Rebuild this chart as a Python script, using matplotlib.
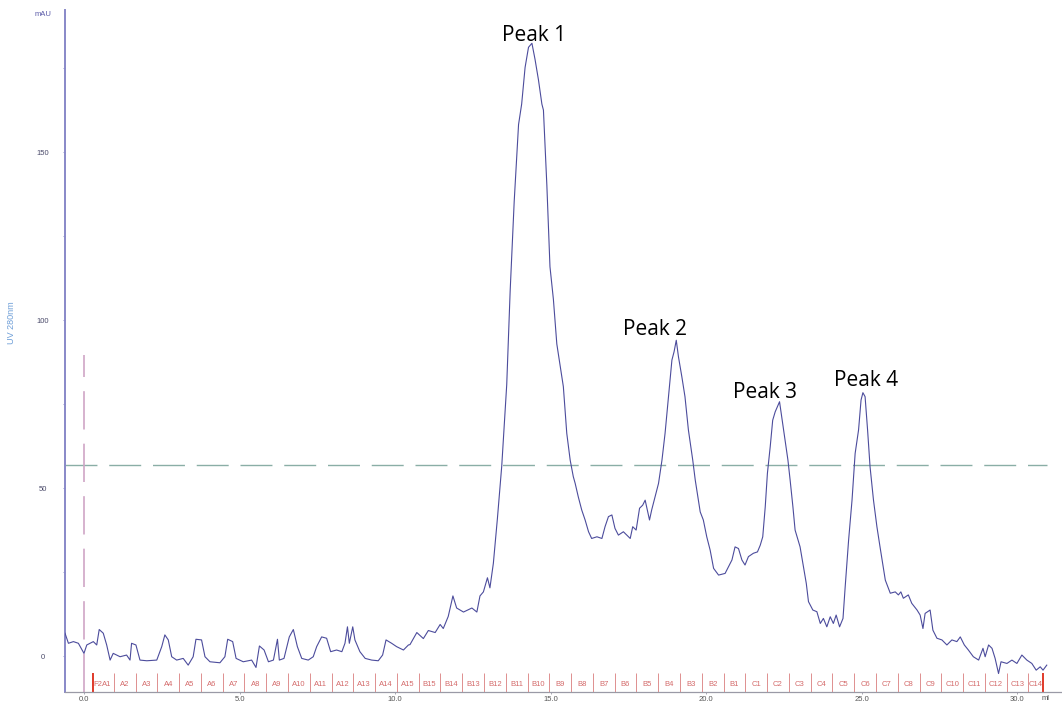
import matplotlib
matplotlib.use('Agg')
import matplotlib.pyplot as plt
from matplotlib.ticker import MultipleLocator

# ---- chromatogram trace (ml, mAU) ----
volume_ml = [
    -0.61, -0.50, -0.34, -0.18, 0.00, 0.09, 0.30, 0.41, 0.49, 0.62, 0.73, 0.84, 0.94,
    1.16, 1.37, 1.48, 1.53, 1.67, 1.80, 2.02, 2.34, 2.50, 2.60, 2.71, 2.82, 2.98,
    3.19, 3.35, 3.51, 3.60, 3.78, 3.89, 4.05, 4.37, 4.53, 4.62, 4.78, 4.89, 5.12,
    5.39, 5.53, 5.64, 5.79, 5.93, 6.09, 6.22, 6.28, 6.43, 6.60, 6.73, 6.86, 7.00,
    7.21, 7.37, 7.48, 7.64, 7.80, 7.93, 8.12, 8.29, 8.39, 8.47, 8.53, 8.64, 8.71,
    8.87, 9.04, 9.25, 9.46, 9.60, 9.71, 9.89, 10.05, 10.27, 10.43,
    10.48, 10.70, 10.91, 11.07, 11.29, 11.45, 11.55, 11.71, 11.86, 11.98, 12.20,
    12.47, 12.63, 12.73, 12.84, 12.97, 13.05, 13.16, 13.29, 13.43, 13.59, 13.70,
    13.83, 13.97, 14.07, 14.18, 14.29, 14.40, 14.50, 14.61, 14.72, 14.77, 14.88,
    14.98, 15.09, 15.20,
    15.41, 15.52, 15.63, 15.73, 15.79, 15.89, 16.00, 16.11, 16.22, 16.32, 16.49,
    16.65, 16.75, 16.86, 16.97, 17.07, 17.18, 17.34, 17.45, 17.56, 17.64, 17.75,
    17.86, 17.96, 18.04, 18.11, 18.18, 18.25, 18.36, 18.47, 18.58, 18.68, 18.79,
    18.90, 18.97, 19.04, 19.11, 19.22, 19.32, 19.43, 19.57, 19.65, 19.70, 19.81,
    19.91, 20.02, 20.13, 20.24, 20.40,
    20.61, 20.72, 20.83, 20.93, 21.04, 21.15, 21.25, 21.36, 21.52, 21.65, 21.74,
    21.82, 21.90, 21.97, 22.06, 22.14, 22.22, 22.29, 22.36, 22.43, 22.54, 22.63,
    22.70, 22.79, 22.86, 22.94, 23.02, 23.13, 23.22, 23.29, 23.43, 23.56, 23.67,
    23.77, 23.88, 23.99, 24.09, 24.18, 24.29, 24.40, 24.47, 24.58, 24.69, 24.79,
    24.90, 24.98, 25.04, 25.11, 25.19, 25.27, 25.38, 25.49, 25.59,
    25.76, 25.92, 26.08, 26.18, 26.26, 26.34, 26.50, 26.61, 26.78, 26.88, 26.97,
    27.04, 27.20, 27.29, 27.42, 27.58, 27.74, 27.90, 28.06, 28.17, 28.30, 28.43,
    28.59, 28.76, 28.90, 28.97, 29.08, 29.19, 29.29, 29.40, 29.48, 29.67, 29.83,
    29.99, 30.15, 30.31, 30.47, 30.61, 30.74, 30.83, 30.95,
]
uv_mau = [
    6.8, 3.8, 4.3, 3.8, 0.8, 3.3, 4.3, 3.3, 7.9, 6.8, 3.3, -1.2, 0.8,
    -0.2, 0.3, -1.2, 3.8, 3.3, -1.2, -1.4, -1.2, 2.8, 6.3, 4.8, -0.2, -1.2,
    -0.7, -2.7, -0.2, 5.0, 4.8, -0.2, -1.7, -2.0, -0.2, 5.0, 4.3, -0.7, -1.7,
    -1.2, -3.4, 3.0, 1.8, -1.7, -1.2, 5.0, -1.2, -0.7, 5.7, 7.9, 2.8, -0.7,
    -1.2, -0.2, 2.8, 5.7, 5.3, 1.3, 1.8, 1.3, 3.8, 8.7, 3.8, 8.7, 4.8,
    1.3, -0.7, -1.2, -1.4, 0.3, 4.8, 3.8, 2.8, 1.8, 3.3,
    3.4, 7.0, 5.2, 7.6, 7.0, 9.4, 8.2, 11.8, 17.9, 14.3, 13.1,
    14.3, 13.1, 17.9, 19.1, 23.3, 20.3, 27.6, 40.9, 56.6, 80.8, 108.6,
    135.3, 158.2, 164.3, 175.2, 181.2, 182.4, 177.6, 171.5, 164.3, 162.5, 140.1,
    115.9, 106.2, 92.9,
    80.2, 66.3, 58.3, 53.4, 51.4, 47.4, 43.5, 40.5, 37.0, 35.0, 35.5,
    35.0, 38.5, 41.5, 42.0, 38.0, 36.0, 37.0, 36.0, 35.0, 38.5, 37.5,
    44.0, 44.9, 46.4, 43.5, 40.5, 43.5, 47.4, 51.4, 58.3, 66.3, 77.2,
    88.1, 90.6, 94.0, 89.1, 83.1, 77.2, 67.3, 58.3, 52.4, 49.4, 42.9,
    40.5, 35.5, 31.5, 26.1, 24.1,
    24.6, 26.6, 28.6, 32.5, 32.0, 28.6, 27.1, 29.6, 30.6, 31.0, 33.0,
    35.5, 44.4, 54.4, 62.3, 70.2, 72.7, 74.2, 75.7, 71.2, 64.3, 58.3,
    52.4, 44.4, 37.5, 35.0, 32.5, 26.6, 21.6, 16.2, 13.7, 13.2, 9.7,
    11.2, 8.7, 11.7, 9.7, 12.2, 8.7, 11.2, 20.6, 34.5, 46.4, 60.3,
    67.3, 76.2, 78.4, 77.2, 67.3, 56.3, 46.4, 38.5, 32.5,
    22.6, 18.7, 19.1, 18.2, 19.1, 17.2, 18.2, 15.7, 13.7, 12.2, 8.2,
    12.7, 13.7, 7.7, 5.3, 4.8, 3.3, 4.8, 4.3, 5.7, 3.3, 1.8,
    -0.2, -1.2, 2.3, -0.2, 3.3, 2.3, -0.7, -5.2, -1.7, -2.2, -1.2,
    -2.2, 0.3, -1.2, -2.2, -4.2, -3.2, -4.2, -2.7,
]

# ---- fraction collector marks ----
fraction_names = ([f'A{i}' for i in range(1, 16)] +
                  [f'B{i}' for i in range(15, 0, -1)] +
                  [f'C{i}' for i in range(1, 15)])
frac_start = 0.26
frac_width = 0.70
run_end = 30.84

# ---- peak annotations ----
peak_names = ['Peak 1', 'Peak 2', 'Peak 3', 'Peak 4']
peak_x = [14.46, 18.36, 21.88, 25.14]
peak_y = [183.1, 95.5, 76.7, 80.4]

watch_level = 56.8      # horizontal dashed level (mAU)
inject_top = 89.6       # top of the injection marker

x_ticks = [0, 5, 10, 15, 20, 25, 30]
y_ticks = [0, 50, 100, 150]

ymin, ymax = -10.7, 192.3
xmin, xmax = -0.61, 31.44

trace_col = '#4c4c9c'
frac_col = '#d46a6a'
axis_font = 'Liberation Sans'

fig = plt.figure(figsize=(10.62, 7.03), dpi=100)
ax = fig.add_axes([65 / 1062, 11 / 703, 1 - 65 / 1062, 1 - 21 / 703])
ax.set_xlim(xmin, xmax)
ax.set_ylim(ymin, ymax)

# trace
ax.plot(volume_ml, uv_mau, color=trace_col, lw=0.8, zorder=3)

# reference lines
ax.hlines(watch_level, xmin, 30.95, colors='#8aaea6', lw=1.0,
          linestyles=(0, (23, 8.5)), zorder=2)
ax.vlines(0.0, ymin, inject_top, colors='#cfa6c6', lw=1.2,
          linestyles=(0, (23, 8.5)), zorder=2)

# fraction ticks and labels
for i, name in enumerate(fraction_names):
    left = frac_start + i * frac_width
    right = min(left + frac_width, run_end)
    ax.vlines(left, ymin, -5.0, colors=frac_col, lw=0.7, alpha=0.75, zorder=2)
    if i == 0:
        ax.text(left + 0.32, -8.6, name, color=frac_col, fontsize=5.5,
                family=axis_font, ha='left', va='center')
    else:
        ax.text((left + right) / 2, -8.6, name, color=frac_col, fontsize=5.5,
                family=axis_font, ha='center', va='center')
ax.text(frac_start + 0.04, -8.6, 'F2', color=frac_col, fontsize=5.5,
        family=axis_font, ha='left', va='center')
ax.vlines(frac_start + 0.02, ymin, -5.0, colors='#e03a2a', lw=1.4, zorder=2)
ax.vlines(run_end, ymin, -5.0, colors='#e03a2a', lw=1.4, zorder=2)

# peak labels
for name, px, py in zip(peak_names, peak_x, peak_y):
    ax.text(px, py, name, fontsize=15, family='Open Sans', fontweight='medium',
            color='#000000', ha='center', va='baseline', zorder=4)

# spines
for side in ['top', 'right']:
    ax.spines[side].set_visible(False)
ax.spines['left'].set_color('#8888c8')
ax.spines['left'].set_linewidth(1.4)
ax.spines['bottom'].set_color('#9a9aa6')
ax.spines['bottom'].set_linewidth(0.9)

# ticks
ax.set_xticks(x_ticks)
ax.set_xticklabels([f'{v:.1f}' for v in x_ticks], fontsize=5.5,
                   family=axis_font, color='#555555')
ax.tick_params(axis='x', length=1.5, width=0.6, pad=1.2, colors='#9a9aa6',
               labelcolor='#555555')
ax.set_yticks(y_ticks)
ax.set_yticklabels([str(v) for v in y_ticks], fontsize=5.5,
                   family=axis_font, color='#4a4a6a')
ax.yaxis.set_minor_locator(MultipleLocator(25))
ax.tick_params(axis='y', which='both', length=1.5, width=0.6, pad=14.5,
               colors='#8888c8', labelcolor='#4a4a6a')
for lab in ax.get_yticklabels():
    lab.set_horizontalalignment('center')

# axis titles
fig.text(43 / 1062, 1 - 15 / 703, 'mAU', fontsize=5.5, family=axis_font,
         color='#5a5aa8', ha='center', va='center')
fig.text(12 / 1062, 1 - 323 / 703, 'UV 280nm', fontsize=6.5, family=axis_font,
         color='#6f9fd8', ha='center', va='center', rotation=90)
fig.text(1046 / 1062, 1 - 699 / 703, 'ml', fontsize=5.5, family=axis_font,
         color='#555555', ha='center', va='center')

fig.savefig('out.png', dpi=100)
